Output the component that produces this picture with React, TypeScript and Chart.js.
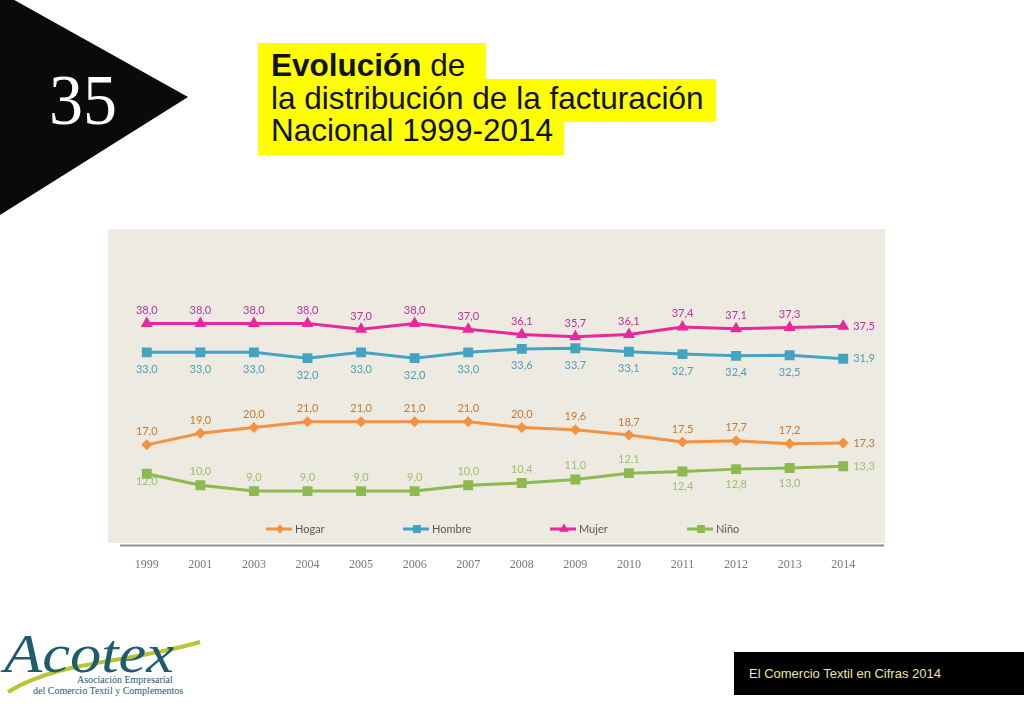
import React, { useEffect, useRef } from 'react';
import { Chart, registerables } from 'chart.js';

Chart.register(...registerables);

const years = ['1999', '2001', '2003', '2004', '2005', '2006', '2007', '2008', '2009', '2010', '2011', '2012', '2013', '2014'];
const hogar = [17.0, 19.0, 20.0, 21.0, 21.0, 21.0, 21.0, 20.0, 19.6, 18.7, 17.5, 17.7, 17.2, 17.3];
const hombre = [33.0, 33.0, 33.0, 32.0, 33.0, 32.0, 33.0, 33.6, 33.7, 33.1, 32.7, 32.4, 32.5, 31.9];
const mujer = [38.0, 38.0, 38.0, 38.0, 37.0, 38.0, 37.0, 36.1, 35.7, 36.1, 37.4, 37.1, 37.3, 37.5];
const nino = [12.0, 10.0, 9.0, 9.0, 9.0, 9.0, 10.0, 10.4, 11.0, 12.1, 12.4, 12.8, 13.0, 13.3];
const seriesNames = ['Hogar', 'Hombre', 'Mujer', 'Niño'];

const lineColors = ['#F29243', '#44A3C2', '#E8289B', '#8CBA4F'];
const labelColors = ['#C7782F', '#4F9EB4', '#B8329A', '#9DBE6B'];
const pointStyles = ['rectRot', 'rect', 'triangle', 'rect'];
const pointRadii = [5.5, 7, 7, 7];

const fmt = (v: number) => v.toFixed(1).replace('.', ',');

const panelPlugin = {
  id: 'panelBg',
  beforeDraw(chart: any) {
    const { ctx } = chart;
    ctx.save();
    ctx.fillStyle = '#EDEAE2';
    ctx.fillRect(0, 0, 777, 314);
    ctx.restore();
  },
  afterDraw(chart: any) {
    const { ctx, chartArea } = chart;
    ctx.save();
    ctx.strokeStyle = '#8E8E8E';
    ctx.lineWidth = 2;
    ctx.beginPath();
    ctx.moveTo(chartArea.left, chartArea.bottom);
    ctx.lineTo(776, chartArea.bottom);
    ctx.stroke();
    ctx.restore();
  },
};

const labelPlugin = {
  id: 'valueLabels',
  afterDatasetsDraw(chart: any) {
    const { ctx } = chart;
    ctx.save();
    ctx.font = '11px Lato, "Open Sans", sans-serif';
    chart.data.datasets.forEach((ds: any, di: number) => {
      const meta = chart.getDatasetMeta(di);
      const n = ds.data.length;
      meta.data.forEach((pt: any, i: number) => {
        const txt = fmt(ds.data[i]);
        ctx.fillStyle = labelColors[di];
        let x = pt.x;
        let y = pt.y;
        ctx.textBaseline = 'middle';
        ctx.textAlign = 'center';
        if (i === n - 1) {
          ctx.textAlign = 'left';
          x += 10;
        } else if (di === 0 || di === 2) {
          y -= 13;
        } else if (di === 1) {
          y += 17;
        } else {
          if (i === 0) y += 8;
          else if (i >= 10) y += 15;
          else y -= 14;
        }
        ctx.fillText(txt, x, y);
      });
    });
    ctx.restore();
  },
};

function drawMarker(ctx: CanvasRenderingContext2D, style: string, r: number, x: number, y: number) {
  ctx.beginPath();
  if (style === 'rectRot') {
    ctx.moveTo(x, y - r);
    ctx.lineTo(x + r, y);
    ctx.lineTo(x, y + r);
    ctx.lineTo(x - r, y);
  } else if (style === 'triangle') {
    ctx.moveTo(x, y - r);
    ctx.lineTo(x + r * 0.87, y + r * 0.5);
    ctx.lineTo(x - r * 0.87, y + r * 0.5);
  } else {
    const s = r / Math.SQRT2;
    ctx.rect(x - s, y - s, 2 * s, 2 * s);
  }
  ctx.closePath();
  ctx.fill();
}

const legendPlugin = {
  id: 'insideLegend',
  afterDraw(chart: any) {
    const { ctx } = chart;
    const starts = [158, 295, 442, 579];
    const y = 300;
    ctx.save();
    chart.data.datasets.forEach((ds: any, di: number) => {
      const x0 = starts[di];
      ctx.strokeStyle = lineColors[di];
      ctx.lineWidth = 3;
      ctx.beginPath();
      ctx.moveTo(x0, y);
      ctx.lineTo(x0 + 26, y);
      ctx.stroke();
      ctx.fillStyle = lineColors[di];
      drawMarker(ctx, pointStyles[di], pointRadii[di] * 0.8, x0 + 14, y);
      ctx.fillStyle = '#595959';
      ctx.font = '11px Lato, "Open Sans", sans-serif';
      ctx.textAlign = 'left';
      ctx.textBaseline = 'middle';
      ctx.fillText(ds.label, x0 + 29, y);
    });
    ctx.restore();
  },
};

function LineChart() {
  const ref = useRef<HTMLCanvasElement | null>(null);
  useEffect(() => {
    if (!ref.current) return;
    const values = [hogar, hombre, mujer, nino];
    const chart = new Chart(ref.current, {
      type: 'line',
      data: {
        labels: years,
        datasets: values.map((d, i) => ({
          label: seriesNames[i],
          data: d,
          borderColor: lineColors[i],
          backgroundColor: lineColors[i],
          borderWidth: 3,
          pointStyle: pointStyles[i] as any,
          pointRadius: pointRadii[i],
          pointBackgroundColor: lineColors[i],
          pointBorderColor: lineColors[i],
          pointBorderWidth: 0,
          tension: 0,
          fill: false,
        })),
      },
      options: {
        animation: false,
        responsive: false,
        maintainAspectRatio: false,
        layout: { padding: { left: 12, right: 18, top: 54, bottom: 6 } },
        plugins: { legend: { display: false }, tooltip: { enabled: false } },
        scales: {
          x: {
            offset: true,
            grid: { display: false, drawTicks: false },
            border: { display: false },
            ticks: {
              color: '#777777',
              padding: 12,
              font: { family: '"Liberation Serif", "DejaVu Serif", serif', size: 12 },
            },
          },
          y: { display: false, min: -0.43, max: 45 },
        },
      },
      plugins: [panelPlugin, labelPlugin, legendPlugin],
    });
    return () => chart.destroy();
  }, []);
  return <canvas ref={ref} width={780} height={361} style={{ position: 'absolute', left: 108, top: 229, width: 780, height: 361 }} />;
}

export default function App() {
  const titleFont = '"Liberation Sans", Arial, sans-serif';
  return (
    <div style={{ position: 'absolute', left: 0, top: 0, width: 1024, height: 709, background: '#ffffff', overflow: 'hidden' }}>
      <svg width={200} height={220} style={{ position: 'absolute', left: 0, top: 0 }}>
        <polygon points="0,-8 188,97 0,215" fill="#0a0a0a" />
        <text x={49} y={124} fill="#ffffff" fontFamily='"Liberation Serif", serif' fontSize={72} textLength={68} lengthAdjust="spacingAndGlyphs">35</text>
      </svg>
      <div style={{ position: 'absolute', left: 258, top: 43, width: 228, height: 38, background: '#FFFF00' }} />
      <div style={{ position: 'absolute', left: 258, top: 79, width: 458, height: 43, background: '#FFFF00' }} />
      <div style={{ position: 'absolute', left: 258, top: 118, width: 306, height: 37, background: '#FFFF00' }} />
      <div style={{ position: 'absolute', left: 271, top: 49, fontFamily: titleFont, fontSize: 31.5, lineHeight: '32.5px', color: '#111' }}>
        <div><b>Evolución</b> de</div>
        <div>la distribución de la facturación</div>
        <div>Nacional 1999-2014</div>
      </div>
      <LineChart />
      <svg width={220} height={90} style={{ position: 'absolute', left: 0, top: 620 }}>
        <path d="M 8 72 C 60 40, 120 45, 200 22" stroke="#B9C534" strokeWidth={4} fill="none" />
        <text x={4} y={52} fill="#1E5B6D" fontFamily='"Liberation Serif", serif' fontStyle="italic" fontSize={54} textLength={170} lengthAdjust="spacingAndGlyphs">Acotex</text>
        <text x={77} y={63} fill="#1E5B6D" fontFamily='"Liberation Serif", serif' fontSize={10}>Asociación Empresarial</text>
        <text x={33} y={74} fill="#1E5B6D" fontFamily='"Liberation Serif", serif' fontSize={10}>del Comercio Textil y Complementos</text>
      </svg>
      <div style={{ position: 'absolute', left: 734, top: 652, width: 290, height: 43, background: '#000000' }}>
        <div style={{ position: 'absolute', left: 15, top: 14, fontFamily: '"Liberation Sans", Arial, sans-serif', fontSize: 13, color: '#EDE6A6', whiteSpace: 'nowrap' }}>
          El Comercio Textil en Cifras 2014
        </div>
      </div>
    </div>
  );
}
